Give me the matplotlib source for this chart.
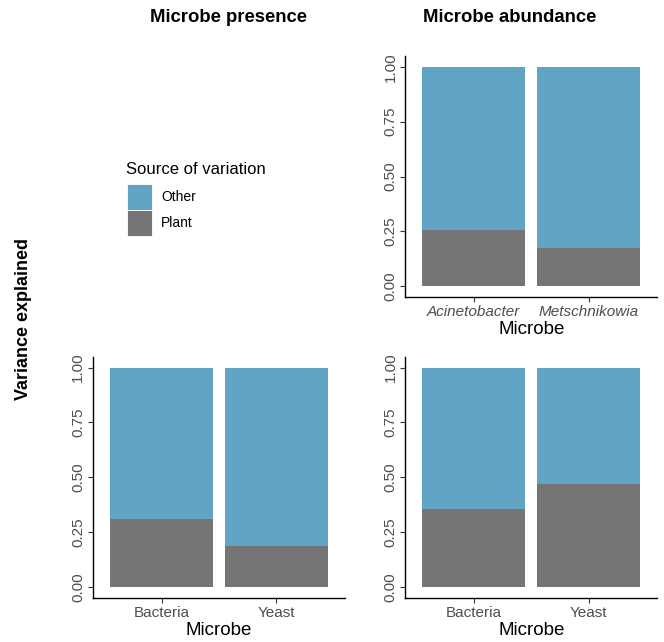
import matplotlib
matplotlib.use("Agg")
import matplotlib.pyplot as plt
import matplotlib.patches as mpatches
from matplotlib.legend_handler import HandlerPatch
import numpy as np

plt.rcParams['font.family'] = ['Liberation Sans', 'DejaVu Sans']

# data: share of variance explained by plant
abund_microbes = ["Acinetobacter", "Metschnikowia"]
abund_plant = [0.257, 0.174]
pres_microbes = ["Bacteria", "Yeast"]
pres_plant = [0.312, 0.188]
abund2_microbes = ["Bacteria", "Yeast"]
abund2_plant = [0.357, 0.470]

sources = ["Other", "Plant"]
col_other = "#62a4c3"
col_plant = "#757575"

fig = plt.figure(figsize=(6.64, 6.42), dpi=100)


def panel(rect, cats, plant, italic=False):
    ax = fig.add_axes(rect)
    x = np.arange(1, len(cats) + 1)
    plant = np.array(plant)
    ax.bar(x, plant, width=0.9, color=col_plant, linewidth=0)
    ax.bar(x, 1 - plant, bottom=plant, width=0.9, color=col_other, linewidth=0)
    ax.set_xlim(0.4, len(cats) + 0.6)
    ax.set_ylim(-0.05, 1.05)
    ax.set_xticks(x)
    ax.set_xticklabels(cats, fontsize=11, color="#4d4d4d",
                       style="italic" if italic else "normal")
    ax.set_yticks([0, 0.25, 0.5, 0.75, 1.0])
    ax.set_yticklabels(["0.00", "0.25", "0.50", "0.75", "1.00"], fontsize=11,
                       color="#4d4d4d", rotation=90, va="center")
    ax.tick_params(length=3.5, width=0.8, color="#333333", pad=2)
    ax.set_xlabel("Microbe", fontsize=13.5, labelpad=1.5)
    for s in ["top", "right"]:
        ax.spines[s].set_visible(False)
    for s in ["left", "bottom"]:
        ax.spines[s].set_linewidth(1.0)
    return ax


panel([0.610, 0.537, 0.380, 0.376], abund_microbes, abund_plant, italic=True)
panel([0.140, 0.0685, 0.380, 0.376], pres_microbes, pres_plant)
panel([0.610, 0.0685, 0.380, 0.376], abund2_microbes, abund2_plant)

fig.text(228 / 664, 1 - 18 / 642, "Microbe presence", fontsize=13.3,
         fontweight="bold", ha="center", va="center")
fig.text(510 / 664, 1 - 18 / 642, "Microbe abundance", fontsize=13.3,
         fontweight="bold", ha="center", va="center")
fig.text(24 / 664, 1 - 319 / 642, "Variance explained", fontsize=13,
         fontweight="bold", ha="center", va="center", rotation=90)

# legend, title drawn separately so the keys sit lower
fig.text(126 / 664, 1 - 169 / 642, "Source of variation", fontsize=12,
         ha="left", va="center")
handles = [mpatches.Patch(facecolor=col_other, edgecolor="white", linewidth=0.6),
           mpatches.Patch(facecolor=col_plant, edgecolor="white", linewidth=0.6)]
fig.legend(handles, sources, loc="upper left",
           bbox_to_anchor=(127 / 664, 1 - 184 / 642), frameon=False,
           fontsize=10, handlelength=1.8, handleheight=2.5,
           labelspacing=0.0, handletextpad=0.65, borderaxespad=0, borderpad=0,
           handler_map={mpatches.Patch: HandlerPatch(ypad=0)})

plt.savefig("out.png", dpi=100)
